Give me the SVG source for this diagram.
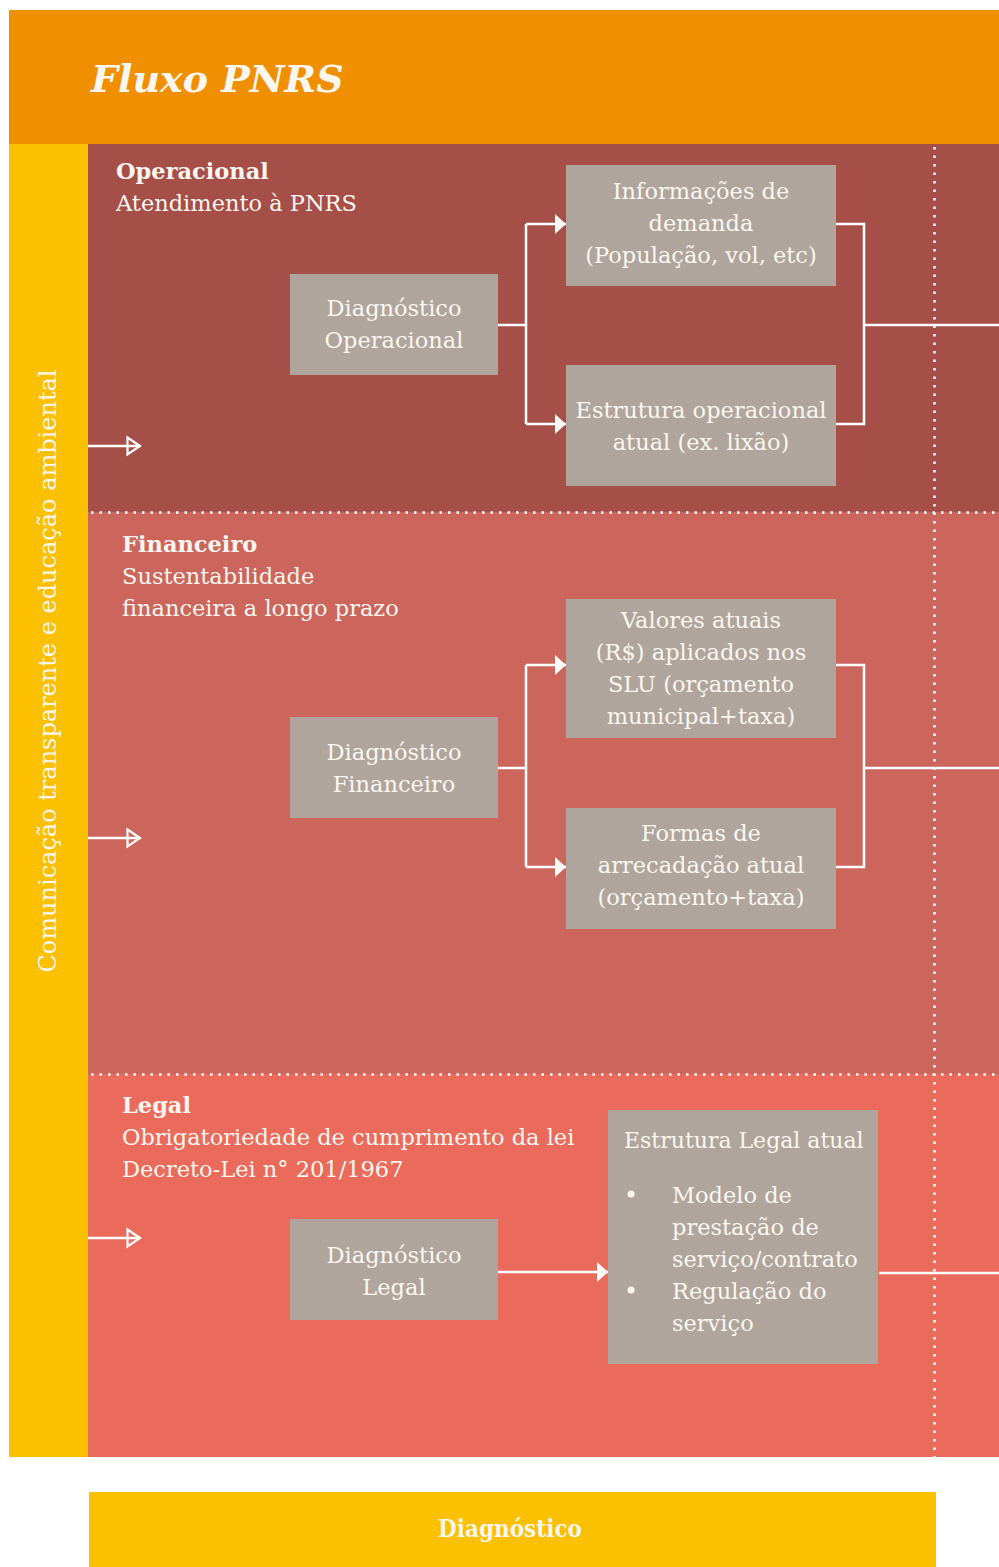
<svg xmlns="http://www.w3.org/2000/svg" width="999" height="1567" viewBox="0 0 999 1567">
<defs>
<style>
.t{font-family:"DejaVu Serif","Liberation Serif",serif;fill:#FAF6F0;font-size:22.5px}
.c{text-anchor:middle}
.b{font-weight:bold}
.box{fill:#AFA59C}
.ln{fill:none;stroke:#FFFFFF;stroke-width:2.5}
.dot{fill:none;stroke:#FFFFFF;stroke-width:2.5;stroke-dasharray:2.5 6}
</style>
<marker id="ah" markerWidth="12" markerHeight="22" refX="11" refY="11" orient="auto" markerUnits="userSpaceOnUse">
<path d="M0,1 L11,11 L0,21 Z" fill="#FFFFFF"/>
</marker>
<marker id="oh" markerWidth="16" markerHeight="22" refX="14" refY="11" orient="auto" markerUnits="userSpaceOnUse">
<path d="M1.5,2.5 L14,11 L1.5,19.5 Z" fill="none" stroke="#FFFFFF" stroke-width="2.2"/>
</marker>
</defs>
<rect width="999" height="1567" fill="#FFFFFF"/>
<g id="header">
<rect x="9" y="10" width="990" height="134" fill="#F09000"/>
<text x="91" y="92" class="t b" style="font-style:italic;font-size:38px" fill="#FFFFFF">Fluxo PNRS</text>
</g>
<g id="sections">
<rect x="88" y="144" width="911" height="368" fill="#A64F48"/>
<rect x="88" y="512" width="911" height="562" fill="#CC665C"/>
<rect x="88" y="1074" width="911" height="383" fill="#EA6B5B"/>
<rect x="9" y="144" width="79" height="1313" fill="#FBC000"/>
<path class="dot" d="M91,512.5 H999 M91,1074.5 H999 M934.5,147 V1457"/>
</g>
<g id="side-label">
<text class="t c" transform="translate(56,671) rotate(-90)" style="font-size:24px">Comunicação transparente e educação ambiental</text>
</g>
<g id="sec-operacional">
<text x="116" y="179" class="t b">Operacional</text>
<text x="116" y="211" class="t">Atendimento à PNRS</text>
</g>
<g id="sec-financeiro">
<text x="122" y="552" class="t b">Financeiro</text>
<text x="122" y="584" class="t">Sustentabilidade</text>
<text x="122" y="616" class="t">financeira a longo prazo</text>
</g>
<g id="sec-legal">
<text x="122" y="1113" class="t b">Legal</text>
<text x="122" y="1145" class="t">Obrigatoriedade de cumprimento da lei</text>
<text x="122" y="1177" class="t">Decreto-Lei n° 201/1967</text>
</g>
<g id="diag-operacional">
<rect class="box" x="290" y="274" width="208" height="101"/>
<text class="t c" x="394" y="316">Diagnóstico</text>
<text class="t c" x="394" y="348">Operacional</text>
</g>
<g id="info-demanda">
<rect class="box" x="566" y="165" width="270" height="121"/>
<text class="t c" x="701" y="199">Informações de</text>
<text class="t c" x="701" y="231">demanda</text>
<text class="t c" x="701" y="263">(População, vol, etc)</text>
</g>
<g id="estrutura-operacional">
<rect class="box" x="566" y="365" width="270" height="121"/>
<text class="t c" x="701" y="418">Estrutura operacional</text>
<text class="t c" x="701" y="450">atual (ex. lixão)</text>
</g>
<g id="diag-financeiro">
<rect class="box" x="290" y="717" width="208" height="101"/>
<text class="t c" x="394" y="760">Diagnóstico</text>
<text class="t c" x="394" y="792">Financeiro</text>
</g>
<g id="valores-atuais">
<rect class="box" x="566" y="599" width="270" height="139"/>
<text class="t c" x="701" y="628">Valores atuais</text>
<text class="t c" x="701" y="660">(R$) aplicados nos</text>
<text class="t c" x="701" y="692">SLU (orçamento</text>
<text class="t c" x="701" y="724">municipal+taxa)</text>
</g>
<g id="formas-arrecadacao">
<rect class="box" x="566" y="808" width="270" height="121"/>
<text class="t c" x="701" y="841">Formas de</text>
<text class="t c" x="701" y="873">arrecadação atual</text>
<text class="t c" x="701" y="905">(orçamento+taxa)</text>
</g>
<g id="diag-legal">
<rect class="box" x="290" y="1219" width="208" height="101"/>
<text class="t c" x="394" y="1263">Diagnóstico</text>
<text class="t c" x="394" y="1295">Legal</text>
</g>
<g id="estrutura-legal">
<rect class="box" x="608" y="1110" width="270" height="254"/>
<text class="t" x="624" y="1148" style="font-size:22px">Estrutura Legal atual</text>
<circle cx="631" cy="1194" r="3.5" fill="#FAF6F0"/>
<circle cx="631" cy="1290" r="3.5" fill="#FAF6F0"/>
<text class="t" x="672" y="1203">Modelo de</text>
<text class="t" x="672" y="1235">prestação de</text>
<text class="t" x="672" y="1267">serviço/contrato</text>
<text class="t" x="672" y="1299">Regulação do</text>
<text class="t" x="672" y="1331">serviço</text>
</g>
<g id="connectors">
<path class="ln" d="M498,325 H526 M526,224 V424"/>
<path class="ln" d="M526,224 H566" marker-end="url(#ah)"/>
<path class="ln" d="M526,424 H566" marker-end="url(#ah)"/>
<path class="ln" d="M836,224 H864 V424 H836 M864,325 H999"/>
<path class="ln" d="M498,768 H526 M526,665 V867"/>
<path class="ln" d="M526,665 H566" marker-end="url(#ah)"/>
<path class="ln" d="M526,867 H566" marker-end="url(#ah)"/>
<path class="ln" d="M836,665 H864 V867 H836 M864,768 H999"/>
<path class="ln" d="M498,1272 H608" marker-end="url(#ah)"/>
<path class="ln" d="M879,1273 H999"/>
<path class="ln" d="M88,446 H140" marker-end="url(#oh)"/>
<path class="ln" d="M88,838 H140" marker-end="url(#oh)"/>
<path class="ln" d="M88,1238 H140" marker-end="url(#oh)"/>
</g>
<g id="footer">
<rect x="89" y="1492" width="847" height="75" fill="#FBC000"/>
<text x="510" y="1537" class="t c b" style="font-stretch:condensed;font-size:24px" fill="#FFFFFF">Diagnóstico</text>
</g>
</svg>
